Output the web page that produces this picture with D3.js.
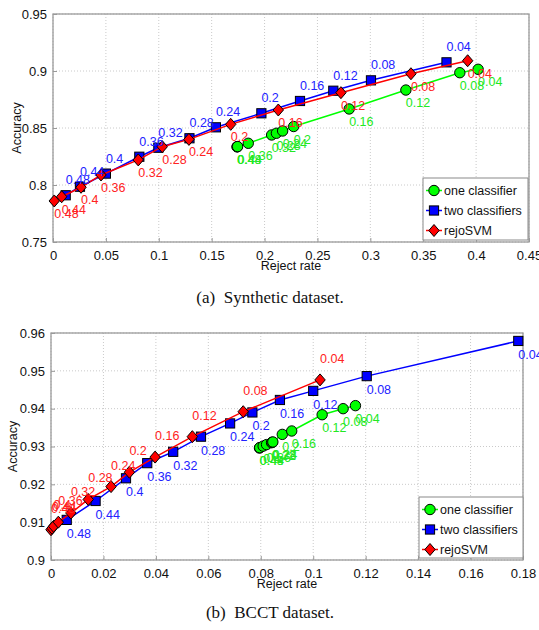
<!DOCTYPE html>
<html>
<head>
<meta charset="utf-8">
<script src="https://cdn.jsdelivr.net/npm/d3@7"></script>
<style>
  body { margin: 0; background: #fff; }
  svg { display: block; }
</style>
</head>
<body>
<svg id="chart"></svg>
<script>
// thresholds used as point labels (same for every series)
var thresholds = ["0.48", "0.44", "0.4", "0.36", "0.32", "0.28", "0.24", "0.2", "0.16", "0.12", "0.08", "0.04"];
var seriesNames = ["one classifier", "two classifiers", "rejoSVM"];

// (a) Synthetic dataset
var synOneReject = [0.1740, 0.1742, 0.1745, 0.1846, 0.2067, 0.2112, 0.2171, 0.2275, 0.2800, 0.3336, 0.3846, 0.4019];
var synOneAcc    = [0.8335, 0.8336, 0.8337, 0.8366, 0.8439, 0.8454, 0.8474, 0.8513, 0.8667, 0.8833, 0.8985, 0.9015];
var synTwoReject = [0.012, 0.0255, 0.050, 0.0816, 0.0996, 0.129, 0.154, 0.197, 0.2335, 0.265, 0.3006, 0.372];
var synTwoAcc    = [0.791, 0.7985, 0.810, 0.8248, 0.8327, 0.841, 0.8506, 0.8629, 0.8737, 0.8827, 0.8918, 0.9076];
var synRejoReject = [0.0012, 0.0082, 0.0265, 0.0454, 0.0806, 0.1033, 0.1285, 0.168, 0.213, 0.2722, 0.3384, 0.392];
var synRejoAcc    = [0.786, 0.7897, 0.798, 0.8088, 0.822, 0.8336, 0.840, 0.8532, 0.8658, 0.881, 0.8976, 0.909];
var synXTicks = [0, 0.05, 0.1, 0.15, 0.2, 0.25, 0.3, 0.35, 0.4, 0.45];
var synYTicks = [0.75, 0.8, 0.85, 0.9, 0.95];

// (b) BCCT dataset
var bcctOneReject = [0.0795, 0.0796, 0.0809, 0.0822, 0.0841, 0.0843, 0.0846, 0.0882, 0.0918, 0.1034, 0.1114, 0.1161];
var bcctOneAcc    = [0.9296, 0.9297, 0.9301, 0.9305, 0.9310, 0.9311, 0.9312, 0.9332, 0.9341, 0.9384, 0.9400, 0.9408];
var bcctTwoReject = [0.006, 0.017, 0.0286, 0.0367, 0.0466, 0.0572, 0.0683, 0.0768, 0.0873, 0.1000, 0.1204, 0.1782];
var bcctTwoAcc    = [0.9106, 0.9156, 0.9216, 0.9256, 0.9286, 0.9326, 0.9361, 0.9390, 0.9423, 0.9447, 0.9486, 0.9579];
var bcctRejoReject = [0.0000, 0.0004, 0.0010, 0.0028, 0.0076, 0.0142, 0.0229, 0.0299, 0.0397, 0.0539, 0.0733, 0.1026];
var bcctRejoAcc    = [0.9080, 0.9084, 0.9089, 0.9100, 0.9124, 0.9160, 0.9194, 0.9232, 0.9272, 0.9326, 0.9392, 0.9476];
var bcctXTicks = [0, 0.02, 0.04, 0.06, 0.08, 0.1, 0.12, 0.14, 0.16, 0.18];
var bcctYTicks = [0.9, 0.91, 0.92, 0.93, 0.94, 0.95, 0.96];

var width = 539, height = 630;
var svg = d3.select("#chart").attr("width", width).attr("height", height);

var colors = ["#00ff00", "#0000ff", "#ff0000"];
var textColors = ["#22e822", "#2222ff", "#ff2222"];
var sans = "'Liberation Sans', Arial, sans-serif";

function zip(xs, ys) {
    return xs.map(function(x, i) { return [x, ys[i]]; });
}

function marker(g, kind, x, y, color) {
    if (kind == 0) {
        g.append("circle").attr("cx", x).attr("cy", y).attr("r", 5.2)
            .attr("fill", color).attr("stroke", "#000").attr("stroke-width", 1);
    } else if (kind == 1) {
        g.append("rect").attr("x", x - 4.6).attr("y", y - 4.6).attr("width", 9.2).attr("height", 9.2)
            .attr("fill", color).attr("stroke", "#000").attr("stroke-width", 1);
    } else {
        g.append("path")
            .attr("d", "M" + x + "," + (y - 6) + "L" + (x + 5.2) + "," + y + "L" + x + "," + (y + 6) + "L" + (x - 5.2) + "," + y + "Z")
            .attr("fill", color).attr("stroke", "#000").attr("stroke-width", 1);
    }
}

function drawPanel(p) {
    var x = d3.scaleLinear().domain(p.xDomain).range([p.left, p.right]);
    var y = d3.scaleLinear().domain(p.yDomain).range([p.bottom, p.top]);
    var g = svg.append("g");

    // grid
    g.selectAll(".gx").data(p.xTicks).enter().append("line")
        .attr("x1", function(d) { return x(d); }).attr("x2", function(d) { return x(d); })
        .attr("y1", p.top).attr("y2", p.bottom)
        .attr("stroke", "#bdbdbd").attr("stroke-width", 0.8).attr("stroke-dasharray", "1,2");
    g.selectAll(".gy").data(p.yTicks).enter().append("line")
        .attr("y1", function(d) { return y(d); }).attr("y2", function(d) { return y(d); })
        .attr("x1", p.left).attr("x2", p.right)
        .attr("stroke", "#bdbdbd").attr("stroke-width", 0.8).attr("stroke-dasharray", "1,2");

    // axes with inside ticks
    var xAxis = d3.axisBottom(x).tickValues(p.xTicks).tickSize(-4).tickPadding(9)
        .tickFormat(function(d) { return d3.format("~g")(d); });
    var yAxis = d3.axisLeft(y).tickValues(p.yTicks).tickSize(-4).tickPadding(6)
        .tickFormat(function(d) { return d3.format("~g")(d); });
    var gx = g.append("g").attr("transform", "translate(0," + p.bottom + ")").call(xAxis);
    var gy = g.append("g").attr("transform", "translate(" + p.left + ",0)").call(yAxis);
    [gx, gy].forEach(function(a) {
        a.select(".domain").remove();
        a.selectAll("line").attr("stroke", "#999");
        a.selectAll("text").attr("font-family", sans).attr("font-size", "13px").attr("fill", "#111");
    });
    g.append("rect").attr("x", p.left).attr("y", p.top)
        .attr("width", p.right - p.left).attr("height", p.bottom - p.top)
        .attr("fill", "none").attr("stroke", "#9a9a9a").attr("stroke-width", 1.3);

    // axis titles
    g.append("text").attr("x", (p.left + p.right) / 2).attr("y", p.bottom + 28)
        .attr("text-anchor", "middle").attr("font-family", sans).attr("font-size", "12.5px")
        .attr("fill", "#111").text("Reject rate");
    g.append("text").attr("transform", "translate(" + p.yTitleX + "," + ((p.top + p.bottom) / 2) + ") rotate(-90)")
        .attr("text-anchor", "middle").attr("dominant-baseline", "central")
        .attr("font-family", sans).attr("font-size", "12.5px").attr("fill", "#111").text("Accuracy");

    // series
    var line = d3.line().x(function(d) { return x(d[0]); }).y(function(d) { return y(d[1]); });
    p.series.forEach(function(s, k) {
        var pts = zip(s[0], s[1]);
        g.append("path").attr("d", line(pts)).attr("fill", "none")
            .attr("stroke", colors[k]).attr("stroke-width", 1.5);
        pts.forEach(function(d) { marker(g, k, x(d[0]), y(d[1]), colors[k]); });
    });
    // point labels
    p.series.forEach(function(s, k) {
        zip(s[0], s[1]).forEach(function(d, i) {
            g.append("text").attr("x", x(d[0])).attr("y", y(d[1]) + p.labelDy[k])
                .attr("dominant-baseline", "central")
                .attr("font-family", sans).attr("font-size", "12.5px")
                .attr("fill", textColors[k]).text(thresholds[i]);
        });
    });

    // legend
    var lg = g.append("g");
    lg.append("rect").attr("x", p.legend[0]).attr("y", p.legend[1])
        .attr("width", p.legend[2]).attr("height", p.legend[3])
        .attr("fill", "#fff").attr("stroke", "#8a8a8a").attr("stroke-width", 1);
    seriesNames.forEach(function(name, k) {
        var ly = p.legend[1] + 12.5 + k * 20;
        var lx = p.legend[0] + 3;
        lg.append("line").attr("x1", lx).attr("x2", lx + 16).attr("y1", ly).attr("y2", ly)
            .attr("stroke", colors[k]).attr("stroke-width", 1.5);
        marker(lg, k, lx + 8, ly, colors[k]);
        lg.append("text").attr("x", lx + 18).attr("y", ly).attr("dominant-baseline", "central")
            .attr("font-family", sans).attr("font-size", "12.5px").attr("fill", "#111").text(name);
    });

    // caption
    svg.append("text").attr("x", 270).attr("y", p.captionY).attr("text-anchor", "middle")
        .attr("font-family", "'Liberation Serif', 'Times New Roman', serif").attr("font-size", "17px")
        .attr("fill", "#111").attr("xml:space", "preserve").text(p.caption);
}

drawPanel({
    left: 53, right: 529, top: 14, bottom: 242,
    xDomain: [0, 0.45], yDomain: [0.75, 0.95],
    xTicks: synXTicks, yTicks: synYTicks,
    series: [[synOneReject, synOneAcc], [synTwoReject, synTwoAcc], [synRejoReject, synRejoAcc]],
    labelDy: [13, -15, 13],
    legend: [423, 178, 105, 62],
    yTitleX: 17,
    caption: "(a)  Synthetic dataset.", captionY: 303
});

drawPanel({
    left: 51, right: 523, top: 333, bottom: 560,
    xDomain: [0, 0.18], yDomain: [0.9, 0.96],
    xTicks: bcctXTicks, yTicks: bcctYTicks,
    series: [[bcctOneReject, bcctOneAcc], [bcctTwoReject, bcctTwoAcc], [bcctRejoReject, bcctRejoAcc]],
    labelDy: [13, 14, -21],
    legend: [419, 497, 104, 61],
    yTitleX: 13,
    caption: "(b)  BCCT dataset.", captionY: 618
});
</script>
</body>
</html>
